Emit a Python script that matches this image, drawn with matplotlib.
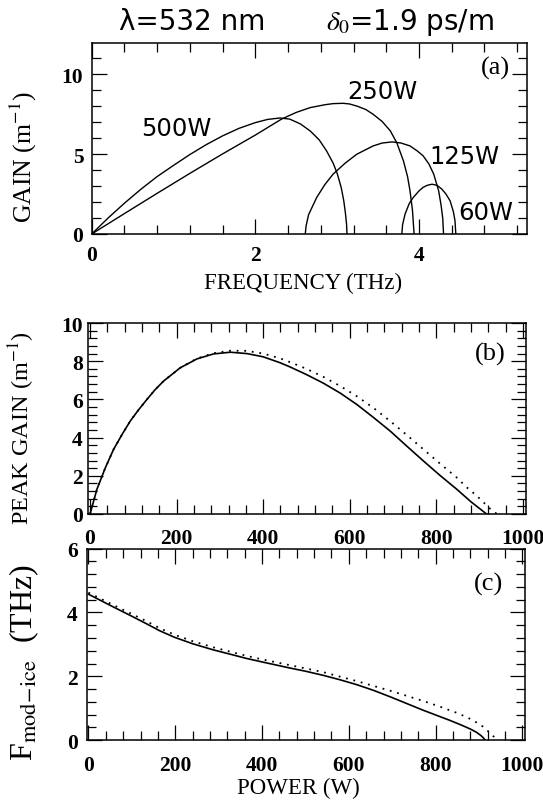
import matplotlib
matplotlib.use('Agg')
import matplotlib.pyplot as plt
from matplotlib.ticker import MultipleLocator

# (a) gain spectra, frequency in THz, gain in 1/m
freq_500 = [0, 0.2, 0.4, 0.6, 0.8, 1.0, 1.2, 1.4, 1.6, 1.8, 2.0, 2.15, 2.3, 2.42, 2.55, 2.67, 2.78, 2.87, 2.95, 3.0, 3.05, 3.08, 3.1, 3.115, 3.12]
gain_500 = [0, 1.0, 1.93, 2.8, 3.6, 4.3, 4.98, 5.6, 6.15, 6.62, 6.98, 7.18, 7.27, 7.2, 6.9, 6.46, 5.9, 5.21, 4.45, 3.8, 2.9, 2.1, 1.35, 0.6, 0]
freq_250 = [0, 0.4, 0.8, 1.2, 1.6, 2.0, 2.32, 2.5, 2.67, 2.85, 2.95, 3.07, 3.15, 3.25, 3.35, 3.44, 3.55, 3.65, 3.73, 3.81, 3.86, 3.89, 3.92, 3.94]
gain_250 = [0, 1.28, 2.55, 3.8, 5.02, 6.2, 7.2, 7.62, 7.92, 8.1, 8.17, 8.19, 8.15, 8.0, 7.8, 7.5, 7.05, 6.46, 5.7, 4.58, 3.6, 2.71, 1.5, 0]
freq_125 = [2.61, 2.62, 2.65, 2.7, 2.75, 2.85, 2.95, 3.1, 3.24, 3.44, 3.55, 3.67, 3.78, 3.89, 3.98, 4.05, 4.12, 4.18, 4.24, 4.27, 4.29, 4.3]
gain_125 = [0, 0.5, 1.2, 1.75, 2.29, 3.1, 3.75, 4.45, 5.0, 5.52, 5.7, 5.77, 5.7, 5.52, 5.2, 4.9, 4.4, 3.75, 2.71, 1.8, 1.0, 0]
freq_60 = [3.79, 3.8, 3.83, 3.88, 3.93, 4.0, 4.05, 4.1, 4.16, 4.22, 4.28, 4.33, 4.38, 4.42, 4.44, 4.45]
gain_60 = [0, 0.6, 1.25, 1.9, 2.29, 2.7, 2.92, 3.05, 3.12, 3.05, 2.81, 2.5, 2.08, 1.4, 0.83, 0]

# (b) peak gain vs power
pw_b = [0, 16, 35, 54.5, 75, 93, 112, 131.5, 150, 170, 208, 247, 285, 324, 362, 400, 439, 462, 500, 539, 578, 616, 655, 693, 731, 770, 808, 847, 880, 916]
peak = [0, 1.3, 2.4, 3.39, 4.2, 4.87, 5.45, 6.0, 6.5, 6.96, 7.65, 8.12, 8.38, 8.47, 8.4, 8.23, 7.92, 7.7, 7.3, 6.85, 6.33, 5.74, 5.05, 4.35, 3.57, 2.78, 2.03, 1.3, 0.64, 0]
pw_b2 = [0, 16, 35, 54.5, 75, 93, 112, 131.5, 150, 170, 208, 247, 285, 324, 362, 400, 439, 462, 500, 539, 578, 616, 655, 693, 731, 770, 808, 847, 870, 893, 925, 940]
peak2 = [0, 1.3, 2.4, 3.39, 4.2, 4.87, 5.45, 6.0, 6.5, 6.96, 7.65, 8.14, 8.42, 8.55, 8.54, 8.4, 8.15, 7.95, 7.6, 7.18, 6.7, 6.17, 5.55, 4.87, 4.15, 3.39, 2.65, 1.91, 1.4, 0.96, 0.26, 0]

# (c) modulation frequency vs power
pw_c = [0, 56, 100, 133, 165, 198.5, 240, 287, 330, 364, 400, 464, 500, 541, 580, 618, 657, 695, 733, 771, 800, 833, 860, 880, 894, 905, 911, 914]
fmod = [4.57, 4.18, 3.88, 3.65, 3.42, 3.22, 3.02, 2.83, 2.68, 2.56, 2.45, 2.26, 2.16, 2.03, 1.89, 1.74, 1.56, 1.36, 1.15, 0.94, 0.79, 0.62, 0.47, 0.35, 0.25, 0.14, 0.06, 0]
pw_c2 = [0, 56, 100, 133, 165, 198.5, 240, 287, 330, 364, 400, 464, 541, 618, 695, 771, 810, 848, 875, 895, 912, 925, 935, 944]
fmod2 = [4.62, 4.24, 3.95, 3.73, 3.5, 3.3, 3.1, 2.91, 2.76, 2.64, 2.53, 2.35, 2.13, 1.85, 1.55, 1.23, 1.05, 0.86, 0.7, 0.55, 0.4, 0.23, 0.1, 0]

plt.rcParams['font.family'] = 'Liberation Serif'
plt.rcParams['mathtext.fontset'] = 'stix'
W, H = 543, 804
fig = plt.figure(figsize=(W/100, H/100), dpi=100)

def box(l, r, t, b):
    return fig.add_axes([l/W, 1-b/H, (r-l)/W, (b-t)/H])

axa = box(91.7, 527, 44.3, 235)
axb = box(88.3, 525.5, 324, 515)
axc = box(86.7, 525, 549.5, 741.2)

lw = 1.0
dots = (0, (1, 3.2))
axa.plot(freq_500, gain_500, 'k-', lw=lw)
axa.plot(freq_250, gain_250, 'k-', lw=lw)
axa.plot(freq_125, gain_125, 'k-', lw=lw)
axa.plot(freq_60, gain_60, 'k-', lw=lw)
axb.plot(pw_b, peak, 'k-', lw=1.2)
axb.plot(pw_b2, peak2, 'k', ls=dots, lw=1.3)
axc.plot(pw_c, fmod, 'k-', lw=1.2)
axc.plot(pw_c2, fmod2, 'k', ls=dots, lw=1.3)

sans = 'DejaVu Sans'
for txt, x, y in [('500W', 1.04, 6.67), ('250W', 3.55, 8.96), ('125W', 4.56, 4.9), ('60W', 4.81, 1.36)]:
    axa.text(x, y, txt, family=sans, fontsize=17.5, ha='center', va='center')

axa.set_xlim(0, 5.32)
axa.set_ylim(0, 11.95)
axa.xaxis.set_major_locator(MultipleLocator(2))
axa.xaxis.set_minor_locator(MultipleLocator(0.4))
axa.yaxis.set_major_locator(MultipleLocator(5))
axa.yaxis.set_minor_locator(MultipleLocator(1))
for ax in (axb, axc):
    ax.set_xlim(-4, 1006)
    ax.xaxis.set_major_locator(MultipleLocator(200))
    ax.xaxis.set_minor_locator(MultipleLocator(40))
    ax.yaxis.set_major_locator(MultipleLocator(2))
    ax.yaxis.set_minor_locator(MultipleLocator(0.4))
axb.set_ylim(0, 10)
axc.set_ylim(0, 6)

for ax, xp, yp in [(axa, 8, 6), (axb, 10, 4), (axc, 11, 6.5)]:
    ax.tick_params(which='both', direction='in', top=True, right=True, width=0.9, labelsize=15.5)
    ax.tick_params(which='major', length=11)
    ax.tick_params(which='minor', length=6.5)
    ax.tick_params(axis='x', pad=xp)
    ax.tick_params(axis='y', pad=yp)
    for lab in ax.get_xticklabels() + ax.get_yticklabels():
        lab.set_fontweight('bold')
    for s in ax.spines.values():
        s.set_linewidth(1.1)

axa.set_xlabel('FREQUENCY (THz)', fontsize=16.5)
axa.xaxis.set_label_coords(0.485, -0.2)
axa.set_ylabel('GAIN (m$^{-1}$)', fontsize=18.5)
axa.yaxis.set_label_coords(-0.122, 0.41)
axb.set_ylabel('PEAK GAIN (m$^{-1}$)', fontsize=17.5)
axb.yaxis.set_label_coords(-0.117, 0.455)
axc.set_xlabel('POWER (W)', fontsize=16.5)
axc.xaxis.set_label_coords(0.484, -0.19)
axc.set_ylabel(r'F$_{\mathrm{mod\!-\!ice}}$  (THz)', fontsize=23)
axc.yaxis.set_label_coords(-0.104, 0.41)

axa.text(0.96, 0.875, '(a)', transform=axa.transAxes, fontsize=19, ha='right', va='center')
axb.text(0.955, 0.84, '(b)', transform=axb.transAxes, fontsize=19, ha='right', va='center')
axc.text(0.95, 0.82, '(c)', transform=axc.transAxes, fontsize=19, ha='right', va='center')

fig.text(192/W, 1-22/H, 'λ=532 nm', family=sans, fontsize=20, ha='center', va='center')
fig.text(410/W, 1-22/H, '$\\mathit{\\delta}_0$=1.9 ps/m', family=sans, fontsize=20, ha='center', va='center')

plt.savefig('out.png', dpi=100)
